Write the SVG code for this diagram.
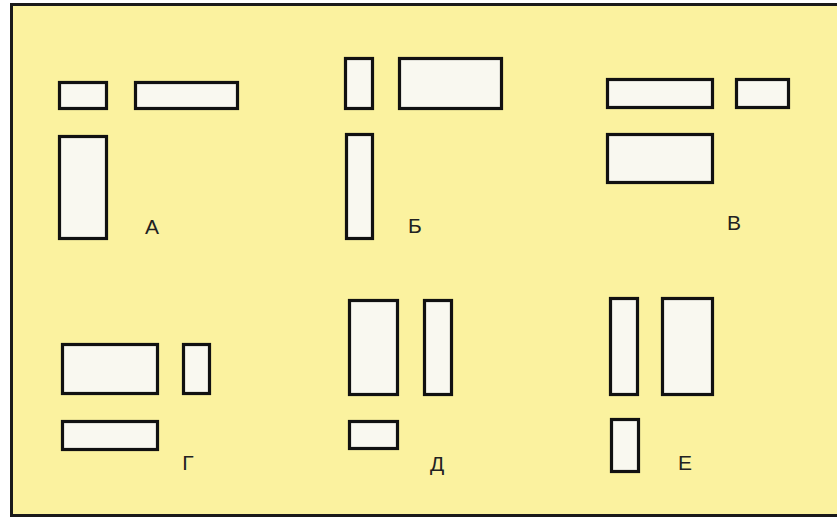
<svg xmlns="http://www.w3.org/2000/svg" width="837" height="518" viewBox="0 0 837 518">
<style>
.bg{fill:#fbf29f}
.frame{fill:none;stroke:#1a1a1a;stroke-width:3}
.box{fill:#f9f8f0;stroke:#111;stroke-width:3.2}
.lbl{font-family:"Liberation Sans",Arial,sans-serif;font-size:21px;fill:#222;text-anchor:middle}
</style>
<rect x="0" y="0" width="837" height="518" fill="#ffffff"/>
<rect class="bg" x="11" y="5" width="826" height="510"/>
<path class="frame" d="M840 4.5 H11.5 V515.5 H840"/>
<g id="A">
<rect class="box" x="59.5" y="82.5" width="47" height="26"/>
<rect class="box" x="135.5" y="82.5" width="102" height="26"/>
<rect class="box" x="59.5" y="136.5" width="47" height="102"/>
<text class="lbl" x="152" y="234">А</text>
</g>
<g id="B">
<rect class="box" x="345.5" y="58.5" width="27" height="50"/>
<rect class="box" x="399.5" y="58.5" width="102" height="50"/>
<rect class="box" x="346.5" y="134.5" width="26" height="104"/>
<text class="lbl" x="415" y="233">Б</text>
</g>
<g id="V">
<rect class="box" x="607.5" y="79.5" width="105" height="28"/>
<rect class="box" x="736.5" y="79.5" width="52" height="28"/>
<rect class="box" x="607.5" y="134.5" width="105" height="48"/>
<text class="lbl" x="734" y="230">В</text>
</g>
<g id="G">
<rect class="box" x="62.5" y="344.5" width="95" height="49"/>
<rect class="box" x="183.5" y="344.5" width="26" height="49"/>
<rect class="box" x="62.5" y="421.5" width="95" height="28"/>
<text class="lbl" x="188" y="470">Г</text>
</g>
<g id="D">
<rect class="box" x="349.5" y="300.5" width="48" height="94"/>
<rect class="box" x="424.5" y="300.5" width="27" height="94"/>
<rect class="box" x="349.5" y="421.5" width="48" height="27"/>
<text class="lbl" x="437" y="471">Д</text>
</g>
<g id="E">
<rect class="box" x="610.5" y="298.5" width="27" height="96"/>
<rect class="box" x="662.5" y="298.5" width="50" height="96"/>
<rect class="box" x="611.5" y="419.5" width="27" height="52"/>
<text class="lbl" x="685" y="470">Е</text>
</g>
</svg>
